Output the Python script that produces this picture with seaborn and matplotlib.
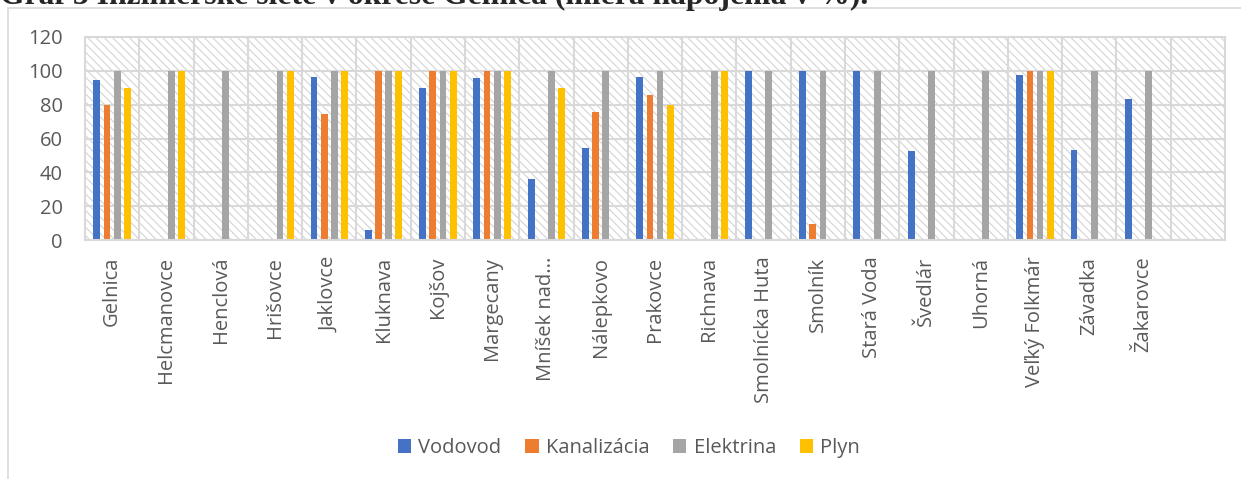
import matplotlib
matplotlib.use('Agg')
import matplotlib.pyplot as plt
import numpy as np
import pandas as pd
import seaborn as sns

obce = ['Gelnica', 'Helcmanovce', 'Henclová', 'Hrišovce', 'Jaklovce', 'Kluknava', 'Kojšov',
        'Margecany', 'Mníšek nad...', 'Nálepkovo', 'Prakovce', 'Richnava', 'Smolnícka Huta',
        'Smolník', 'Stará Voda', 'Švedlár', 'Uhorná', 'Veľký Folkmár', 'Závadka', 'Žakarovce']
vodovod = [94.7, 0, 0, 0, 96.4, 5.9, 90, 95.7, 35.9, 54.3, 96.4, 0, 100, 100, 100, 52.7, 0, 97.4, 53.3, 83.2]
kanalizacia = [80, 0, 0, 0, 74.7, 100, 100, 100, 0, 75.7, 85.8, 0, 0, 9.5, 0, 0, 0, 100, 0, 0]
elektrina = [100] * 20
plyn = [90, 100, 0, 100, 100, 100, 100, 100, 90, 0, 80, 100, 0, 0, 0, 0, 0, 100, 0, 0]
siete = ['Vodovod', 'Kanalizácia', 'Elektrina', 'Plyn']
farby = ['#4472C4', '#ED7D31', '#A5A5A5', '#FFC000']
y_ticks = [0, 20, 40, 60, 80, 100, 120]

df = pd.DataFrame({'obec': obce * 4,
                   'siet': [s for s in siete for _ in obce],
                   'hodnota': vodovod + kanalizacia + elektrina + plyn})

sns.set_style('white')
plt.rcParams['font.family'] = ['Open Sans', 'DejaVu Sans']
plt.rcParams['hatch.linewidth'] = 0.8

fig = plt.figure(figsize=(12.41, 4.79), dpi=100)
ax = fig.add_axes([85 / 1241, 1 - 240 / 479, 1140 / 1241, 203 / 479])

sns.barplot(data=df, x='obec', y='hodnota', hue='siet', palette=farby, order=obce, saturation=1,
            width=0.75, gap=0.33, errorbar=None, linewidth=0, ax=ax)

# srafovane pozadie plochy grafu
ax.add_patch(plt.Rectangle((0, 0), 1, 1, transform=ax.transAxes, facecolor='white',
                           edgecolor='#D4D4D4', lw=0, hatch='\\\\\\\\', zorder=0))
ax.set_xlim(-0.5, 20.5)
ax.set_ylim(0, 120)
ax.set_yticks(y_ticks)
ax.set_xticks(range(len(obce)))
ax.set_xticklabels(obce, rotation=90, va='top', ha='center')
ax.set_xticks(np.arange(-0.5, 21, 1), minor=True)
ax.tick_params(axis='both', which='both', length=0, colors='#595959', labelsize=14.5)
ax.tick_params(axis='x', pad=12)
ax.tick_params(axis='y', pad=16)
ax.set_axisbelow(True)
ax.grid(axis='y', color='#D9D9D9', lw=1.5)
ax.grid(axis='x', which='minor', color='#D9D9D9', lw=1.5)
ax.grid(axis='x', which='major', visible=False)
for s in ax.spines.values():
    s.set_color('#D9D9D9')
    s.set_linewidth(1.5)
ax.set_xlabel('')
ax.set_ylabel('')

ax.legend_.remove()
h, l = ax.get_legend_handles_labels()
fig.legend(h, l, loc='center', bbox_to_anchor=(629 / 1241, 1 - 448 / 479), ncol=4,
           frameon=False, fontsize=14.5, handlelength=0.65, handleheight=0.65,
           handletextpad=0.35, columnspacing=1.2, labelcolor='#595959')

# ram grafu a orezany nadpis nad nim (v predlohe je nadpis zhora odrezany)
fig.patches.append(plt.Rectangle((8 / 1241, -0.1), 1.2, 1.1 - 8 / 479, transform=fig.transFigure,
                                 fill=False, edgecolor='#D9D9D9', lw=1.2))
fig.text(0, 1 - 4 / 479, 'Graf 3 Inžinierske siete v okrese Gelnica (miera napojenia v %).',
         family='Liberation Serif', weight='bold', fontsize=22.8, va='baseline', ha='left')

fig.savefig('out.png', dpi=100)
